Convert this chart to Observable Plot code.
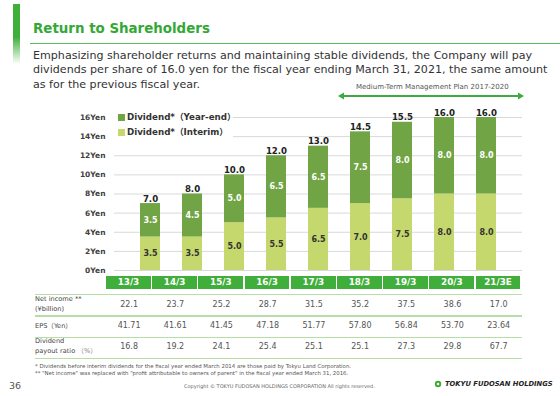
<!DOCTYPE html>
<html><head><meta charset="utf-8">
<script src="https://cdn.jsdelivr.net/npm/d3@7"></script>
<script src="https://cdn.jsdelivr.net/npm/@observablehq/plot@0.6"></script>
<style>
body{margin:0;}
#page{position:relative;width:560px;height:396px;overflow:hidden;background:#fff;font-family:"DejaVu Sans","Noto Sans CJK JP",sans-serif;color:#333;}
.abs{position:absolute;white-space:nowrap;}
</style></head>
<body><div id="page"></div>
<script>
const categories = ["13/3","14/3","15/3","16/3","17/3","18/3","19/3","20/3","21/3E"];
const interim = [3.5,3.5,5.0,5.5,6.5,7.0,7.5,8.0,8.0];
const yearEnd = [3.5,4.5,5.0,6.5,6.5,7.5,8.0,8.0,8.0];
const totals = [7.0,8.0,10.0,12.0,13.0,14.5,15.5,16.0,16.0];
const yTicks = [0,2,4,6,8,10,12,14,16];
const netIncome = ["22.1","23.7","25.2","28.7","31.5","35.2","37.5","38.6","17.0"];
const eps = ["41.71","41.61","41.45","47.18","51.77","57.80","56.84","53.70","23.64"];
const payout = ["16.8","19.2","24.1","25.4","25.1","25.1","27.3","29.8","67.7"];
const seriesNames = ["Dividend*（Interim）","Dividend*（Year-end）"];
const DARK = "#70a444", LIGHT = "#c5d86d", GREEN = "#3fae3a", LINE = "#b6dea6";

const page = document.getElementById("page");
function add(html, style){const d=document.createElement("div");d.className="abs";d.innerHTML=html;Object.assign(d.style,style);page.appendChild(d);return d;}

// decorations & text
add("",{left:"13px",top:"4px",width:"7px",height:"60px",background:`linear-gradient(to bottom, ${GREEN} 0%, ${GREEN} 55%, rgba(255,255,255,0) 100%)`});
add("Return to Shareholders",{left:"33px",top:"20.7px",fontSize:"13.4px",lineHeight:"16px",fontWeight:"bold",color:"#33a837"});
add("",{left:"30px",top:"42.5px",width:"530px",height:"1.5px",background:"#5cbd5c"});
add("Emphasizing shareholder returns and maintaining stable dividends, the Company will pay<br>dividends per share of 16.0 yen for the fiscal year ending March 31, 2021, the same amount<br>as for the previous fiscal year.",
  {left:"33px",top:"49px",fontSize:"11.1px",lineHeight:"14.3px",color:"#333"});
add("Medium-Term Management Plan 2017-2020",{left:"356px",top:"83px",fontSize:"7px",lineHeight:"8px",color:"#555"});
add(`<svg width="186" height="10"><line x1="4" y1="5" x2="182" y2="5" stroke="#3faa3f" stroke-width="2"/><path d="M0,5 L6,1.5 L6,8.5Z M186,5 L180,1.5 L180,8.5Z" fill="#3faa3f"/></svg>`,{left:"338px",top:"91px",lineHeight:"0"});

// chart
const data = [];
categories.forEach((c,i)=>{
  data.push({cat:c, series:seriesNames[0], value:interim[i]});
  data.push({cat:c, series:seriesNames[1], value:yearEnd[i]});
});
const totalData = categories.map((c,i)=>({cat:c,total:totals[i]}));
const colorOf = s => s===seriesNames[0] ? LIGHT : DARK;

const chart = Plot.plot({
  width:560, height:180,
  marginLeft:114, marginRight:38, marginTop:17, marginBottom:10,
  style:{fontFamily:"DejaVu Sans, sans-serif", color:"#404040", background:"transparent", overflow:"visible"},
  x:{domain:categories, padding:0.514, axis:null},
  y:{domain:[0,16], axis:null},
  color:{type:"identity"},
  marks:[
    Plot.ruleY(yTicks,{stroke:"#d9d9d9"}),
    Plot.axisY({ticks:yTicks, tickSize:0, tickPadding:9, tickFormat:d=>d+"Yen", fontSize:7.5, fontWeight:"bold"}),
    Plot.barY(data,{x:"cat", y:"value", fill:d=>colorOf(d.series)}),
    Plot.text(data, Plot.stackY({x:"cat", y:"value", text:d=>d.value.toFixed(1), fill:d=>d.series===seriesNames[0]?"#333333":"#ffffff", fontSize:8, fontWeight:"bold"})),
    Plot.text(totalData,{x:"cat", y:"total", text:d=>d.total.toFixed(1), dy:-2, lineAnchor:"bottom", fontSize:8.6, fontWeight:"bold", fill:"#222"})
  ]
});
chart.style.position="absolute"; chart.style.left="0px"; chart.style.top="100px";
page.appendChild(chart);

// legend
const leg = add("",{left:"114px",top:"110px",width:"119px",height:"28px",background:"#fff"});
[seriesNames[1],seriesNames[0]].forEach((s,i)=>{
  const r=document.createElement("div");
  r.style.cssText=`position:absolute;left:4px;top:${3+i*14.5}px;font-size:8.7px;line-height:9px;font-weight:bold;color:#333;white-space:nowrap;`;
  r.innerHTML=`<span style="display:inline-block;width:7px;height:7px;background:${colorOf(s)};margin-right:2px;vertical-align:-1px"></span>${s}`;
  leg.appendChild(r);
});

// table
const colL = 106, colW = 46.2;
categories.forEach((c,i)=>{
  add(c,{left:(colL+i*colW)+"px",top:"276px",width:(colW-1.3)+"px",height:"12.5px",lineHeight:"12.5px",background:GREEN,color:"#fff",fontWeight:"bold",fontSize:"8.8px",textAlign:"center"});
});
[293.5,315,336.5,357.5].forEach(y=>add("",{left:"35px",top:y+"px",width:"487px",height:"1.6px",background:LINE}));
const rows=[[netIncome,305],[eps,326],[payout,346.7]];
rows.forEach(([vals,yc])=>{
  vals.forEach((v,i)=>add(v,{left:(colL+i*colW)+"px",top:(yc-5)+"px",width:colW+"px",lineHeight:"10px",fontSize:"8px",textAlign:"center",color:"#555"}));
});
const lab={fontSize:"6.6px",lineHeight:"8px",color:"#444",left:"35px"};
add("Net income **",{...lab,top:"295px"});
add("(¥billion)",{...lab,top:"305px"});
add("EPS（Yen）",{...lab,top:"322px"});
add("Dividend",{...lab,top:"337px"});
add("payout ratio <span style='color:#888'>（%）</span>",{...lab,top:"347px"});

add("* Dividends before interim dividends for the fiscal year ended March 2014 are those paid by Tokyu Land Corporation.",{left:"35px",top:"362.5px",fontSize:"5.4px",lineHeight:"6px",color:"#555"});
add("** \"Net income\" was replaced with \"profit attributable to owners of parent\" in the fiscal year ended March 31, 2016.",{left:"35px",top:"370px",fontSize:"5.4px",lineHeight:"6px",color:"#555"});
add("36",{left:"9px",top:"380px",fontSize:"9.5px",lineHeight:"11px",color:"#555"});
add("Copyright © TOKYU FUDOSAN HOLDINGS CORPORATION All rights reserved.",{left:"184px",top:"383px",fontSize:"5px",lineHeight:"6px",color:"#666"});
add(`<svg width="8" height="8"><circle cx="4" cy="4" r="3.2" fill="#3aaa35"/><circle cx="4" cy="4" r="1.3" fill="#fff"/></svg>`,{left:"434px",top:"380px",lineHeight:"0"});
add("TOKYU FUDOSAN HOLDINGS",{left:"445px",top:"380px",fontSize:"6.75px",lineHeight:"8px",fontWeight:"bold",fontStyle:"italic",color:"#222"});
</script></body></html>
